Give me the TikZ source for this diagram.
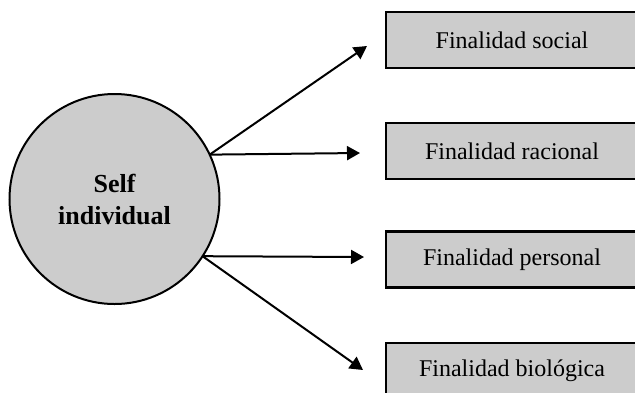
\documentclass[tikz,border=0pt]{standalone}
\usepackage{fontspec}
\setmainfont{Liberation Serif}
\usepackage{tikz}
\usetikzlibrary{arrows.meta}

\begin{document}
\begin{tikzpicture}
    [   x = 0.5pt
    ,   y = -0.5pt
    ,   > = {Triangle[length=6.5pt,width=7pt]}
    ,   self/.style =
        {   draw
        ,   circle
        ,   fill = black!20
        ,   line width = 1pt
        ,   inner sep = 0mm
        ,   outer sep = 0mm
        ,   minimum size = 105pt
        ,   align = center
        ,   font = \fontsize{13}{16}\selectfont\bfseries
        }
    ,   fin/.style =
        {   draw
        ,   rectangle
        ,   fill = black!20
        ,   line width = 1.3pt
        ,   inner sep = 0mm
        ,   outer sep = 0mm
        ,   minimum width = 126pt
        ,   minimum height = 28pt
        ,   font = \fontsize{12}{14}\selectfont
        }
    ,   link/.style = {->, line width = 1pt}
    ]
    \useasboundingbox (0,0) rectangle (635,392);
    \node[self] (self) at (114.5,199) {Self\\individual};
    \foreach\n/\y/\t in {soc/40/social,rac/151/racional,per/259.5/personal,bio/371/biológica}
    {   \node[fin] (\n) at (512,\y) {Finalidad \t};
    }
    \coordinate (soc end) at (367,46);
    \coordinate (rac end) at (360,153);
    \coordinate (per end) at (364,257);
    \coordinate (bio end) at (363,370);
    \foreach\n in {soc,rac}
    {   \draw[link] (self.25.7) to (\n\space end);
    }
    \foreach\n in {per,bio}
    {   \draw[link] (self.-33.2) to (\n\space end);
    }

\end{tikzpicture}
\end{document}
